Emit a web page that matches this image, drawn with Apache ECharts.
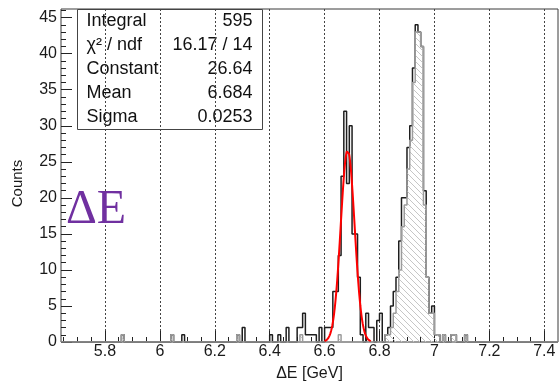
<!DOCTYPE html>
<html>
<head>
<meta charset="utf-8">
<script src="https://cdn.jsdelivr.net/npm/echarts@6/dist/echarts.min.js"></script>
<style>
  html, body { margin: 0; padding: 0; background: #fff; }
  #chart { width: 560px; height: 382px; }
</style>
</head>
<body>
<div id="chart"></div>
<script>
// Histogram binning: 0.01 GeV bins on [5.64, 7.45]
const xMin = 5.64, xMax = 7.45, binWidth = 0.01;
const yMin = 0, yMax = 46.2;

// Full ΔE distribution: low edge of every non-empty bin and its content
const allBinLow = [
  5.86, 6.04, 6.08, 6.28, 6.30, 6.40, 6.43, 6.46, 6.50, 6.51,
  6.52, 6.53, 6.54, 6.55, 6.56, 6.58, 6.60, 6.61, 6.62, 6.63,
  6.64, 6.65, 6.66, 6.67, 6.68, 6.69, 6.70, 6.71, 6.72, 6.73,
  6.75, 6.76, 6.77, 6.79, 6.80, 6.82, 6.83, 6.84, 6.85, 6.86,
  6.87, 6.88, 6.89, 6.90, 6.91, 6.92, 6.93, 6.94, 6.95, 6.96,
  6.97, 6.98, 6.99, 7.00, 7.01, 7.03, 7.06, 7.07, 7.11
];
const allCounts = [
  1, 1, 1, 1, 2, 1, 1, 2, 2, 2,
  4, 1, 1, 1, 1, 2, 2, 2, 2, 7,
  7, 12, 23, 32, 22, 30, 15, 15, 9, 1,
  4, 2, 2, 3, 4, 1, 2, 5, 7, 9,
  14, 20, 20, 27, 30, 38, 44, 43, 41, 21,
  9, 4, 5, 1, 1, 1, 1, 1, 1
];

// Hatched component: low edge of every non-empty bin and its content
const hatchBinLow = [
  5.86, 6.04, 6.28, 6.51, 6.65, 6.82, 6.83, 6.84, 6.85, 6.86,
  6.87, 6.88, 6.89, 6.90, 6.91, 6.92, 6.93, 6.94, 6.95, 6.96,
  6.97, 6.98, 6.99, 7.00, 7.01, 7.03, 7.06, 7.07, 7.11
];
const hatchCounts = [
  1, 1, 1, 1, 1, 1, 1, 2, 4, 7,
  10, 16, 19, 24, 28, 36, 43, 43, 41, 19,
  9, 4, 4, 1, 1, 1, 1, 1, 1
];

// Gaussian fit of the first peak
const fitConstant = 26.64, fitMean = 6.684, fitSigma = 0.0253;
const fitRange = [6.60, 6.77];

// Statistics box
const statsLabels = ['Integral', 'χ² / ndf', 'Constant', 'Mean', 'Sigma'];
const statsValues = ['595', '16.17 / 14', '26.64', '6.684', '0.0253'];

// Axis ticks
const xMajorTicks = [5.8, 6, 6.2, 6.4, 6.6, 6.8, 7, 7.2, 7.4];
const xMinorTicks = [5.65, 5.7, 5.75, 5.85, 5.9, 5.95, 6.05, 6.1, 6.15, 6.25, 6.3, 6.35,
  6.45, 6.5, 6.55, 6.65, 6.7, 6.75, 6.85, 6.9, 6.95, 7.05, 7.1, 7.15, 7.25, 7.3, 7.35];
const yMajorTicks = [0, 5, 10, 15, 20, 25, 30, 35, 40, 45];
const yMinorTicks = [1, 2, 3, 4, 6, 7, 8, 9, 11, 12, 13, 14, 16, 17, 18, 19, 21, 22, 23, 24,
  26, 27, 28, 29, 31, 32, 33, 34, 36, 37, 38, 39, 41, 42, 43, 44, 46];

const FONT = 'Liberation Sans, Arial, Helvetica, sans-serif';

// Expand sparse bins into a stepped outline over the whole range
function stepData(lows, counts) {
  const n = Math.round((xMax - xMin) / binWidth);
  const full = new Array(n).fill(0);
  lows.forEach((lo, i) => {
    full[Math.round((lo - xMin) / binWidth)] = counts[i];
  });
  const data = full.map((c, k) => [+(xMin + k * binWidth).toFixed(2), c]);
  data.push([xMax, full[n - 1]]);
  return data;
}

// Fit function sampled across its range
function fitCurve() {
  const pts = [];
  const n = Math.round((fitRange[1] - fitRange[0]) / 0.001);
  for (let i = 0; i <= n; i++) {
    const x = fitRange[0] + i * 0.001;
    const t = (x - fitMean) / fitSigma;
    pts.push([x, fitConstant * Math.exp(-0.5 * t * t)]);
  }
  return pts;
}

// Diagonal hatch fill
function hatchPattern() {
  const s = 6;
  const c = document.createElement('canvas');
  c.width = s; c.height = s;
  const g = c.getContext('2d');
  g.strokeStyle = '#c6c6c6';
  g.lineWidth = 1;
  g.beginPath();
  g.moveTo(0, 0); g.lineTo(s, s);
  g.moveTo(-1, s - 1); g.lineTo(1, s + 1);
  g.moveTo(s - 1, -1); g.lineTo(s + 1, 1);
  g.stroke();
  return c;
}

const tickLabelStyle = { fontFamily: FONT, fontSize: 16, color: '#1a1a1a' };
const fmt = v => String(+(+v).toFixed(2));

const chart = echarts.init(document.getElementById('chart'), null, { renderer: 'canvas' });

chart.setOption({
  animation: false,
  backgroundColor: '#fff',
  grid: {
    left: 61, right: 2, top: 9, bottom: 40,
    outerBoundsMode: 'none', containLabel: false,
    show: true, borderColor: '#3a3a3a', borderWidth: 1, backgroundColor: 'transparent'
  },
  xAxis: [
    {
      type: 'value', min: xMin, max: xMax, position: 'bottom',
      axisLine: { show: false },
      axisTick: { show: true, inside: true, length: 11, customValues: xMajorTicks,
                  lineStyle: { color: '#222', width: 1 } },
      axisLabel: Object.assign({ customValues: xMajorTicks, margin: 2, formatter: fmt }, tickLabelStyle),
      splitLine: { show: true, lineStyle: { type: [2, 2], color: '#444', width: 1 } },
      name: 'ΔE [GeV]', nameLocation: 'middle', nameGap: 24,
      nameTextStyle: { fontFamily: FONT, fontSize: 16, color: '#1a1a1a' }
    },
    {
      type: 'value', min: xMin, max: xMax, position: 'bottom',
      axisLine: { show: false },
      axisTick: { show: true, inside: true, length: 5, customValues: xMinorTicks,
                  lineStyle: { color: '#222', width: 1 } },
      axisLabel: { show: false },
      splitLine: { show: false }
    }
  ],
  yAxis: [
    {
      type: 'value', min: yMin, max: yMax, position: 'left',
      axisLine: { show: false },
      axisTick: { show: true, inside: true, length: 11, customValues: yMajorTicks,
                  lineStyle: { color: '#222', width: 1 } },
      axisLabel: Object.assign({ customValues: yMajorTicks, margin: 4, formatter: fmt }, tickLabelStyle),
      splitLine: { show: false },
      name: 'Counts', nameLocation: 'middle', nameGap: 36, nameRotate: 90,
      nameTextStyle: { fontFamily: FONT, fontSize: 15, color: '#1a1a1a', padding: [0, 16, 0, 0] }
    },
    {
      type: 'value', min: yMin, max: yMax, position: 'left',
      axisLine: { show: false },
      axisTick: { show: true, inside: true, length: 5, customValues: yMinorTicks,
                  lineStyle: { color: '#222', width: 1 } },
      axisLabel: { show: false },
      splitLine: { show: false }
    }
  ],
  series: [
    {
      name: 'all', type: 'line', step: 'end', symbol: 'none',
      data: stepData(allBinLow, allCounts),
      lineStyle: { color: '#1e1e1e', width: 1.5 },
      z: 3
    },
    {
      name: 'hatched', type: 'line', step: 'end', symbol: 'none',
      data: stepData(hatchBinLow, hatchCounts),
      lineStyle: { color: '#9c9c9c', width: 1.5 },
      areaStyle: { color: { image: hatchPattern(), repeat: 'repeat' }, opacity: 1 },
      z: 4
    },
    {
      name: 'fit', type: 'line', symbol: 'none', smooth: false,
      data: fitCurve(),
      lineStyle: { color: '#ff0000', width: 2 },
      z: 5
    }
  ],
  graphic: [
    {
      type: 'group', left: 77, top: 9, z: 20,
      children: [
        { type: 'rect', shape: { x: 0, y: 0, width: 185, height: 120 },
          style: { fill: '#fff', stroke: '#444', lineWidth: 1 } }
      ].concat(statsLabels.map((t, i) => ({
        type: 'text', x: 9, y: 12 + i * 24,
        style: { text: t, fontFamily: FONT, fontSize: 18, fill: '#111', verticalAlign: 'middle', align: 'left' }
      }))).concat(statsValues.map((t, i) => ({
        type: 'text', x: 175, y: 12 + i * 24,
        style: { text: t, fontFamily: FONT, fontSize: 18, fill: '#111', verticalAlign: 'middle', align: 'right' }
      })))
    },
    {
      type: 'text', left: 66, top: 186, z: 20,
      style: { text: 'ΔE', fontFamily: 'Liberation Serif, Times New Roman, serif', fontSize: 48, fill: '#7030a0' }
    }
  ]
});
</script>
</body>
</html>
